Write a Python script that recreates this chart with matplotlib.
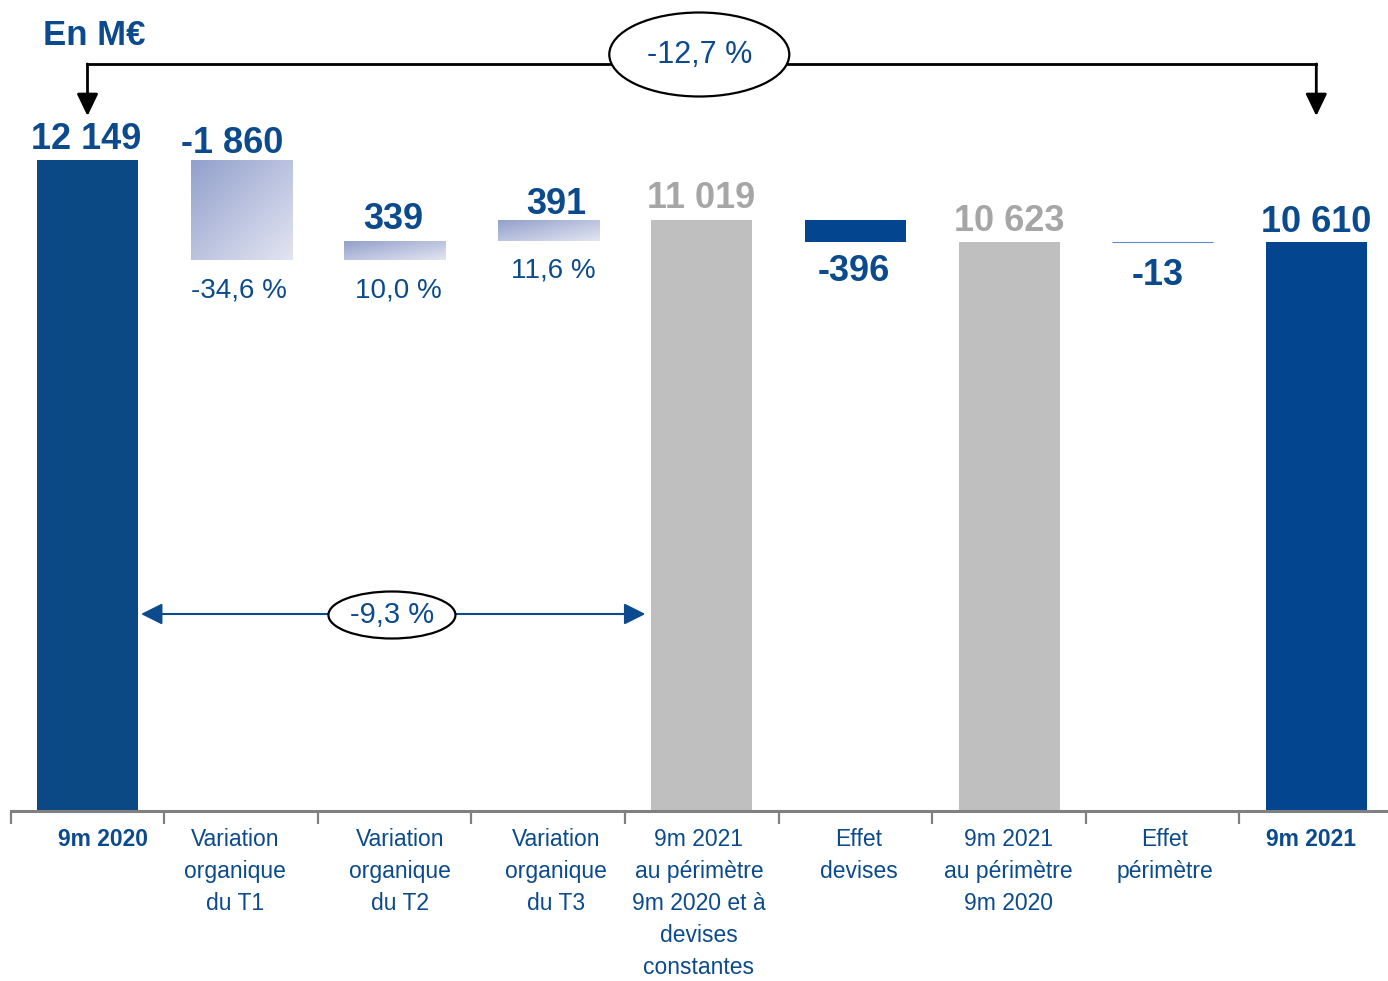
"""
Waterfall: chiffre d'affaires 9m 2020 -> 9m 2021 (en M€)
"""

import numpy as np
import matplotlib
matplotlib.use("Agg")
import matplotlib.pyplot as plt
from matplotlib import font_manager
from matplotlib.colors import LinearSegmentedColormap
from matplotlib.patches import Ellipse, FancyArrowPatch


# --- data ---
categories = [
    ["9m 2020"],
    ["Variation", "organique", "du T1"],
    ["Variation", "organique", "du T2"],
    ["Variation", "organique", "du T3"],
    ["9m 2021", "au périmètre", "9m 2020 et à", "devises", "constantes"],
    ["Effet", "devises"],
    ["9m 2021", "au périmètre", "9m 2020"],
    ["Effet", "périmètre"],
    ["9m 2021"],
]
values = [12149, -1860, 339, 391, 11019, -396, 10623, -13, 10610]
kinds = ["total", "organic", "organic", "organic", "subtotal", "fx", "subtotal", "scope", "total"]
value_labels = ["12 149", "-1 860", "339", "391", "11 019", "-396", "10 623", "-13", "10 610"]
pct_labels = {1: "-34,6 %", 2: "10,0 %", 3: "11,6 %"}
total_change = "-12,7 %"
organic_change = "-9,3 %"
unit_label = "En M€"

# --- style ---
BLUE_TXT = "#0b4a8c"
NAVY_FIRST = "#0a4984"
NAVY = "#03458f"
GREY_BAR = "#bfbfbf"
GREY_TXT = "#a6a6a6"
SCOPE_LINE = "#5b8bd0"
GRAD_DARK = "#93a0cc"
GRAD_LIGHT = "#e2e5f1"

W_PX, H_PX = 1388, 981
BASE_PX = 811          # baseline (px from top)
LEFT_PX = 10.7
STEP_PX = 153.6        # category width in px
PX_PER_UNIT = 0.05359
BAR_W = 0.658


def has_font(name):
    try:
        font_manager.findfont(font_manager.FontProperties(family=name),
                              fallback_to_default=False)
        return True
    except ValueError:
        return False


MAIN_FONT = "Liberation Sans"
if has_font("Liberation Sans Narrow"):
    CAT_FONT, CAT_SIZE = "Liberation Sans Narrow", 20
else:
    CAT_FONT, CAT_SIZE = "Liberation Sans", 16.5

plt.rcParams["font.family"] = [MAIN_FONT, "DejaVu Sans"]

fig = plt.figure(figsize=(W_PX / 100, H_PX / 100), dpi=100)
ax = fig.add_axes([LEFT_PX / W_PX, (H_PX - BASE_PX) / H_PX,
                   9 * STEP_PX / W_PX, BASE_PX / H_PX])
ymax = BASE_PX / PX_PER_UNIT


def px_h(px):
    # vertical pixel distance -> data units
    return px / PX_PER_UNIT


def px_w(px):
    # horizontal pixel distance -> data units
    return px / STEP_PX


# --- bars ---
x = np.arange(len(values))
bottoms, heights = [], []
level = 0
for v, k in zip(values, kinds):
    if k in ("total", "subtotal"):
        bottoms.append(0)
        heights.append(v)
        level = v
    else:
        bottoms.append(level)
        heights.append(v)
        level += v

colors = []
for i, k in enumerate(kinds):
    if k == "total":
        colors.append(NAVY_FIRST if i == 0 else NAVY)
    elif k == "subtotal":
        colors.append(GREY_BAR)
    elif k == "fx":
        colors.append(NAVY)
    elif k == "scope":
        colors.append(SCOPE_LINE)
    else:
        colors.append("none")

bars = ax.bar(x, heights, bottom=bottoms, width=BAR_W, color=colors,
              linewidth=0, zorder=2)
bars[7].set_edgecolor(SCOPE_LINE)
bars[7].set_linewidth(0.8)

# gradient fill for organic variations
grad_cmap = LinearSegmentedColormap.from_list("grad", [GRAD_DARK, GRAD_LIGHT])
n = 200
gy, gx = np.mgrid[0:1:complex(n), 0:1:complex(n)]
grad = (gx + gy) / 2
for i, k in enumerate(kinds):
    if k != "organic":
        continue
    b = bars[i]
    x0, y0 = b.get_x(), b.get_y()
    w, h = b.get_width(), b.get_height()
    lo, hi = min(y0, y0 + h), max(y0, y0 + h)
    im = ax.imshow(grad, cmap=grad_cmap, extent=(x0, x0 + w, lo, hi),
                   origin="upper", aspect="auto", interpolation="bilinear", zorder=2)
    im.set_clip_path(b)

# --- value labels ---
# offset px from anchor; anchor is top of the bar, or bottom for negatives
label_dy = [11, 7, 12, 6, 12, -39, 11, -43, 10]
label_dx = [-1, -9, -1, 8, -1, -2, 0, -5, 0]
for i, (lab, k) in enumerate(zip(value_labels, kinds)):
    top = max(bottoms[i], bottoms[i] + heights[i])
    low = min(bottoms[i], bottoms[i] + heights[i])
    anchor = top if label_dy[i] > 0 else low
    col = GREY_TXT if k == "subtotal" else BLUE_TXT
    ax.annotate(lab, xy=(i, anchor), xytext=(label_dx[i], label_dy[i]),
                textcoords="offset pixels", ha="center", va="baseline",
                fontsize=26, fontweight="bold", color=col, zorder=5)

pct_dx = {1: -2, 2: 4, 3: 5}
pct_dy = {1: -38, 2: -38, 3: -36}
for i, lab in pct_labels.items():
    low = min(bottoms[i], bottoms[i] + heights[i])
    ax.annotate(lab, xy=(i, low), xytext=(pct_dx[i], pct_dy[i]),
                textcoords="offset pixels", ha="center", va="baseline",
                fontsize=20, color=BLUE_TXT, zorder=5)

# --- top bracket: 9m 2020 -> 9m 2021 ---
y_line = px_h(BASE_PX - 64)
y_tip = px_h(BASE_PX - 116)
ax.plot([x[0], x[-1]], [y_line, y_line], color="black", lw=2,
        solid_capstyle="projecting", zorder=3, clip_on=False)
for xi in (x[0], x[-1]):
    ax.add_patch(FancyArrowPatch((xi, y_line), (xi, y_tip),
                                 arrowstyle="-|>,head_length=13.5,head_width=6.5",
                                 mutation_scale=1, color="black", lw=2,
                                 shrinkA=0, shrinkB=0, zorder=3))
ell_x = 3.983
ax.add_patch(Ellipse((ell_x, px_h(BASE_PX - 54.5)), px_w(180), px_h(84),
                     facecolor="white", edgecolor="black", lw=1.6, zorder=4,
                     clip_on=False))
ax.text(ell_x, px_h(BASE_PX - 55), total_change, ha="center", va="center",
        fontsize=22, color=BLUE_TXT, zorder=5)

# --- organic arrow: 9m 2020 -> 9m 2021 a perimetre/devises constants ---
y_arr = px_h(BASE_PX - 614)
gap = px_w(3)
ax.add_patch(FancyArrowPatch((x[0] + BAR_W / 2 + gap, y_arr),
                             (x[4] - BAR_W / 2 - px_w(6), y_arr),
                             arrowstyle="<|-|>,head_length=13,head_width=6.5",
                             mutation_scale=1, color=BLUE_TXT, lw=1.5,
                             shrinkA=0, shrinkB=0, zorder=3))
ell2_x = 1.982
ax.add_patch(Ellipse((ell2_x, px_h(BASE_PX - 615)), px_w(127), px_h(47),
                     facecolor="white", edgecolor="black", lw=1.6, zorder=4))
ax.text(ell2_x, px_h(BASE_PX - 615), organic_change, ha="center", va="center",
        fontsize=21, color=BLUE_TXT, zorder=5)

# --- axes ---
ax.set_xlim(-0.5, len(values) - 0.5)
ax.set_ylim(0, ymax)
for side in ("top", "right", "left"):
    ax.spines[side].set_visible(False)
ax.spines["bottom"].set_color("#808080")
ax.spines["bottom"].set_linewidth(2.2)
ax.set_yticks([])
ax.set_xticks(np.arange(-0.5, len(values), 1.0))
ax.set_xticklabels([])
ax.tick_params(axis="x", length=9, width=1.6, color="#808080", direction="out")

# category labels, one line at a time
cat_dx = [16, -6, 5, 8, -3, 3, -1, 2, -5]
line_step = 32
first_base = 846 - BASE_PX
for i, lines in enumerate(categories):
    bold = i in (0, len(categories) - 1)
    for j, line in enumerate(lines):
        ax.annotate(line, xy=(i, 0), xytext=(cat_dx[i], -(first_base + j * line_step)),
                    textcoords="offset pixels", ha="center", va="baseline",
                    fontsize=CAT_SIZE, family=CAT_FONT,
                    fontweight="bold" if bold else "normal",
                    color=BLUE_TXT, annotation_clip=False)

fig.text(43 / W_PX, (H_PX - 45) / H_PX, unit_label, ha="left", va="baseline",
         fontsize=25, fontweight="bold", color=BLUE_TXT)

fig.savefig("out.png", dpi=100, facecolor="white")
